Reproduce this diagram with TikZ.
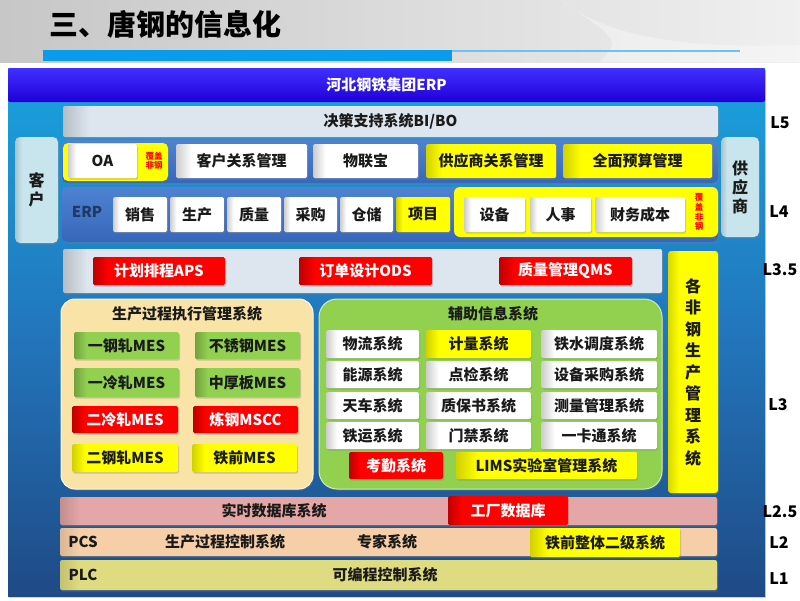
\documentclass[tikz,border=0pt]{standalone}
\usepackage{fontspec}
\setmainfont{Noto Sans CJK SC}
\usetikzlibrary{shadows}
\definecolor{txt}{HTML}{1A1A1A}
\definecolor{erpblue}{HTML}{1F3864}
\definecolor{panTop}{HTML}{1AA2DE}
\definecolor{panMid}{HTML}{2276BC}
\definecolor{panBot}{HTML}{1F4A86}
\definecolor{purA}{HTML}{4030FF}
\definecolor{purB}{HTML}{2000D8}
\definecolor{titleblue}{HTML}{0A9BEA}
\definecolor{bandA}{HTML}{4F82D2}
\definecolor{bandB}{HTML}{3767BA}
\definecolor{stripc}{HTML}{DDE6EF}
\definecolor{cyanc}{HTML}{C8E5EE}
\definecolor{yel}{HTML}{FFFF00}
\definecolor{redc}{HTML}{FF0000}
\definecolor{grn}{HTML}{92D050}
\definecolor{tanc}{HTML}{F9E3A6}
\definecolor{gcont}{HTML}{92D050}
\definecolor{pinkc}{HTML}{E4A6A6}
\definecolor{peach}{HTML}{F6CFA8}
\definecolor{khaki}{HTML}{DEDB80}
\newcommand\fz[2]{\fontsize{#1}{#2}\selectfont}
% name, dark, base, stop
\newcommand\mkbevel[4]{\pgfdeclarehorizontalshading{#1}{100bp}{color(0bp)=(#2); color(25bp)=(#2); color(#4)=(#3); color(100bp)=(#3)}}
\mkbevel{bvw}{black!20}{white}{31bp}
\mkbevel{bvy}{yel!82!black}{yel}{31bp}
\mkbevel{bvr}{redc!75!black}{redc}{31bp}
\mkbevel{bvg}{grn!78!black}{grn}{31bp}
\mkbevel{bvs}{stripc!82!black}{stripc}{27bp}
\mkbevel{bvc}{cyanc!85!black}{cyanc}{33bp}
\mkbevel{bvyv}{yel!85!black}{yel}{36bp}
\mkbevel{bvp}{pinkc!85!black}{pinkc}{26.5bp}
\mkbevel{bvpe}{peach!88!black}{peach}{26.5bp}
\mkbevel{bvk}{khaki!88!black}{khaki}{26.5bp}
\newcommand\bx[7]{\node[#6, minimum width={(#4-#2)*1pt}, minimum height={(#5-#3)*1pt}] (#1) at ({(#2+#4)/2},{(#3+#5)/2}) {#7};}
\tikzset{
  base/.style={inner sep=0pt, outer sep=0pt, text=txt, font=\fz{15}{18}\bfseries, align=center},
  sh/.style={drop shadow={opacity=0.35, shadow xshift=1pt, shadow yshift=-1.5pt}},
  wbox/.style={base, sh, rounded corners=1.5pt, shade, shading=bvw},
  ybox/.style={base, sh, rounded corners=1.5pt, shade, shading=bvy},
  rbox/.style={base, sh, rounded corners=1.5pt, shade, shading=bvr, text=white},
  gbox/.style={base, sh, rounded corners=1.5pt, shade, shading=bvg},
  stripbox/.style={base, sh, rounded corners=2pt, shade, shading=bvs},
  sidebox/.style={base, sh, rounded corners=5pt, shade, shading=bvc, font=\fz{16}{19}\bfseries},
  band/.style={base, sh, rounded corners=5pt, top color=bandA, bottom color=bandB},
  lbl/.style={inner sep=0pt, text=txt, font=\fz{15}{18}\bfseries},
  lev/.style={inner sep=0pt, text=black, font=\fz{16}{18}\bfseries},
  note/.style={inner sep=0pt, text=red, font=\fz{8.5}{9.5}\bfseries, align=center},
}
\begin{document}
\begin{tikzpicture}[x=1pt,y=-1pt]
\useasboundingbox (0,0) rectangle (800,600);
\fill[white] (0,0) rectangle (800,600);
% title area
\fill[left color=black!22, right color=black!6] (0,0) rectangle (800,62);
\fill[white, opacity=0.35] (560,0) .. controls (600,30) and (660,50) .. (800,45) -- (800,62) -- (600,62) .. controls (620,40) .. (560,0);
\fill[titleblue] (43,50) rectangle (452,61);
\draw[titleblue!60, line width=1.3pt] (452,51) -- (740,51);
\node[anchor=west, inner sep=0pt, text=black, font=\fz{29}{32}\bfseries] (title) at (49,24) {三、唐钢的信息化};
% panel
\bx{panel}{8}{68}{765}{596}{base, sh, shade, top color=panTop, bottom color=panBot, middle color=panMid}{}
\bx{erpgrp}{8}{68}{765}{102}{base, rounded corners=2pt, top color=purA, bottom color=purB, text=white}{河北钢铁集团ERP}
% L5
\bx{bi}{63}{106}{718}{137}{stripbox}{决策支持系统BI/BO}
% side boxes
\bx{kehu}{15}{137}{58}{243}{sidebox}{客\\户}
\bx{gys}{721}{137}{759}{237}{sidebox}{供\\应\\商}
% L4 row 1
\bx{oaband}{62}{140}{718}{183}{band}{}
\bx{oagrp}{63}{143}{168}{181}{base, rounded corners=5pt, fill=yel}{}
\bx{oa}{68}{144}{137}{178}{wbox}{OA}
\node[note] (oanote) at (154,161) {覆盖\\非钢};
\bx{crm}{176}{144}{307}{178}{wbox}{客户关系管理}
\bx{wlb}{313}{144}{418}{178}{wbox}{物联宝}
\bx{srm}{426}{144}{556}{178}{ybox}{供应商关系管理}
\bx{qmys}{563}{144}{712}{178}{ybox}{全面预算管理}
% L4 row 2
\bx{erpband}{62}{187}{718}{242}{band}{}
\node[inner sep=0pt, text=erpblue, font=\fz{15}{18}\bfseries] (erplbl) at (87,212) {ERP};
\bx{xs}{113}{197}{167}{232}{wbox}{销售}
\bx{scn}{170}{197}{224}{232}{wbox}{生产}
\bx{zl}{227}{197}{281}{232}{wbox}{质量}
\bx{cg}{284}{197}{337}{232}{wbox}{采购}
\bx{cc}{340}{197}{393}{232}{wbox}{仓储}
\bx{xm}{396}{197}{450}{232}{ybox}{项目}
\bx{fgrp}{454}{187}{718}{237}{base, rounded corners=6pt, fill=yel}{}
\bx{sb}{464}{197}{525}{232}{wbox}{设备}
\bx{rs}{530}{197}{591}{232}{wbox}{人事}
\bx{cw}{595}{197}{685}{232}{wbox}{财务成本}
\node[note, font=\fz{8.5}{9.8}\bfseries] (fnote) at (699,212) {覆\\盖\\非\\钢};
% L3.5
\bx{l35}{63}{249}{662}{293}{stripbox}{}
\bx{aps}{93}{257}{225}{285}{rbox}{计划排程APS}
\bx{ods}{299}{257}{432}{285}{rbox}{订单设计ODS}
\bx{qms}{499}{257}{632}{285}{rbox}{质量管理QMS}
\bx{fg}{668}{251}{718}{493}{base, sh, rounded corners=3pt, shade, shading=bvyv, font=\fz{16}{21.5}\bfseries}{各\\非\\钢\\生\\产\\管\\理\\系\\统}
% MES container
\bx{mes}{61}{299}{313}{489}{base, sh, rounded corners=14pt, fill=tanc, draw=white!70!tanc, line width=1pt}{}
\node[lbl] (mestitle) at (187,314) {生产过程执行管理系统};
\bx{m1}{74}{332}{179}{359}{gbox}{一钢轧MES}
\bx{m2}{195}{332}{300}{359}{gbox}{不锈钢MES}
\bx{m3}{74}{368}{179}{397}{gbox}{一冷轧MES}
\bx{m4}{195}{368}{300}{397}{gbox}{中厚板MES}
\bx{m5}{72}{406}{178}{433}{rbox}{二冷轧MES}
\bx{m6}{193}{406}{298}{433}{rbox}{炼钢MSCC}
\bx{m7}{72}{444}{178}{472}{ybox}{二钢轧MES}
\bx{m8}{192}{444}{297}{472}{ybox}{铁前MES}
% auxiliary container
\bx{aux}{319}{299}{662}{489}{base, sh, rounded corners=18pt, fill=gcont, draw=white!60!gcont, line width=1pt}{}
\node[lbl] (auxtitle) at (493,314) {辅助信息系统};
\bx{a11}{326}{330}{419}{358}{wbox}{物流系统}
\bx{a12}{426}{330}{531}{358}{ybox}{计量系统}
\bx{a13}{541}{330}{657}{358}{wbox}{铁水调度系统}
\bx{a21}{326}{361}{419}{388}{wbox}{能源系统}
\bx{a22}{426}{361}{531}{388}{wbox}{点检系统}
\bx{a23}{541}{361}{657}{388}{wbox}{设备采购系统}
\bx{a31}{326}{392}{419}{419}{wbox}{天车系统}
\bx{a32}{426}{392}{531}{419}{wbox}{质保书系统}
\bx{a33}{541}{392}{657}{419}{wbox}{测量管理系统}
\bx{a41}{326}{422}{419}{449}{wbox}{铁运系统}
\bx{a42}{426}{422}{531}{449}{wbox}{门禁系统}
\bx{a43}{541}{422}{657}{449}{wbox}{一卡通系统}
\bx{kq}{349}{452}{443}{479}{rbox}{考勤系统}
\bx{lims}{456}{452}{637}{479}{ybox}{LIMS实验室管理系统}
% L2.5
\bx{rtdb}{60}{497}{717}{525}{base, sh, rounded corners=2pt, shade, shading=bvp}{}
\node[lbl] (rtdbt) at (274,511) {实时数据库系统};
\bx{gcdb}{448}{496}{568}{525}{rbox}{工厂数据库}
% L2
\bx{pcs}{60}{528}{717}{556}{base, sh, rounded corners=2pt, shade, shading=bvpe}{}
\node[lbl] (pcsl) at (83,542) {PCS};
\node[lbl] (pcst) at (225,542) {生产过程控制系统};
\node[lbl] (zjxt) at (387,542) {专家系统};
\bx{tqej}{530}{528}{680}{557}{ybox}{铁前整体二级系统}
% L1
\bx{plc}{60}{560}{717}{590}{base, sh, rounded corners=2pt, shade, shading=bvk}{}
\node[lbl] (plcl) at (83,575) {PLC};
\node[lbl] (plct) at (385,575) {可编程控制系统};
% level labels
\node[lev] (L5) at (780,123) {L5};
\node[lev] (L4) at (779,212) {L4};
\node[lev] (L35) at (780,270) {L3.5};
\node[lev] (L3) at (778,405) {L3};
\node[lev] (L25) at (780,512) {L2.5};
\node[lev] (L2) at (779,543) {L2};
\node[lev] (L1) at (779,579) {L1};
\end{tikzpicture}
\end{document}
